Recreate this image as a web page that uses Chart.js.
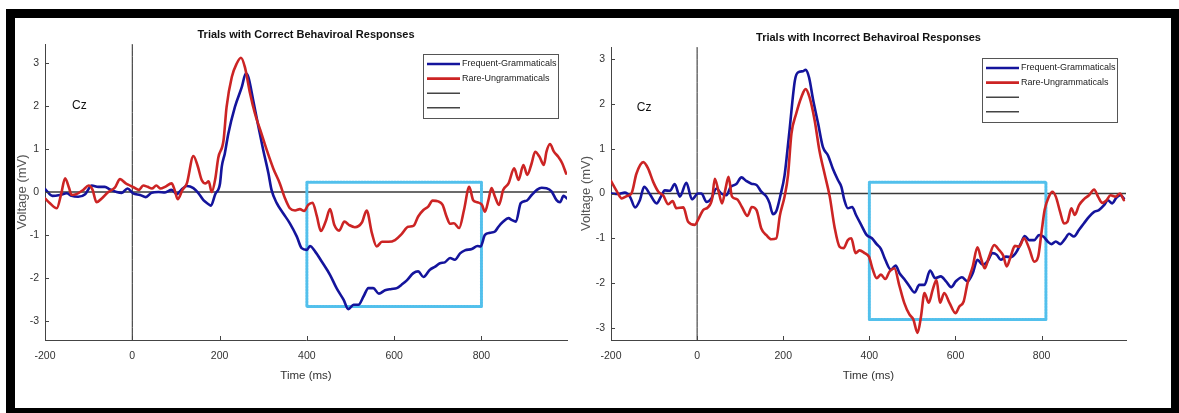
<!DOCTYPE html>
<html>
<head>
<meta charset="utf-8">
<script src="https://cdn.jsdelivr.net/npm/chart.js@4.4.1/dist/chart.umd.min.js"></script>
<style>
  html, body { margin: 0; padding: 0; background: #fff; }
  body { width: 1179px; height: 413px; position: relative; overflow: hidden; }
  #frame { position: absolute; left: 6px; top: 9px; width: 1156px; height: 390px;
           border: 9px solid #000; border-right-width: 8px; border-bottom-width: 5px; }
  .panel { position: absolute; top: 18px; }
  #p1 { left: 15px; }
  #p2 { left: 575px; }
</style>
</head>
<body>
<div id="frame"></div>
<canvas id="p1" class="panel" width="575" height="385"></canvas>
<canvas id="p2" class="panel" width="575" height="385"></canvas>
<script>
// ---- data (ms / voltage) ----
const xTicks = [-200, 0, 200, 400, 600, 800];
const yTicks = [-3, -2, -1, 0, 1, 2, 3];
const xRange = [-200, 996];
const seriesNames = ['Frequent-Grammaticals', 'Rare-Ungrammaticals'];

// left panel: correct responses
const correctFreqT = [-200,-183,-166,-150,-139,-124,-108,-93,-78,-63,-51,-36,-24,-11,2,18,31,44,60,75,90,102,113,125,140,151,163,174,180,190,201,205,212,220,235,251,260,266,277,289,300,312,319,331,346,361,377,388,400,407,419,434,453,468,484,495,507,518,530,541,552,565,579,594,606,617,629,644,655,667,682,694,705,716,728,739,751,762,778,791,798,808,820,831,839,850,862,869,879,890,904,915,927,938,949,961,972,980,988,996];
const correctFreqV = [0.07,-0.09,-0.07,-0.03,-0.09,-0.11,-0.05,0.15,0.12,0.12,0.06,0.0,-0.02,0.08,-0.03,-0.07,-0.12,-0.02,0.0,-0.01,0.05,-0.05,0.06,0.14,0.09,-0.02,-0.19,-0.28,-0.32,-0.05,0.2,0.59,0.9,1.36,1.98,2.45,2.76,2.68,2.14,1.52,0.98,0.43,0.05,-0.26,-0.5,-0.73,-1.04,-1.31,-1.35,-1.26,-1.39,-1.62,-1.93,-2.24,-2.51,-2.73,-2.63,-2.63,-2.43,-2.24,-2.24,-2.37,-2.29,-2.26,-2.24,-2.16,-2.06,-1.89,-1.85,-1.98,-1.81,-1.74,-1.66,-1.64,-1.54,-1.58,-1.43,-1.36,-1.33,-1.26,-1.27,-1.0,-0.95,-0.92,-0.81,-0.69,-0.61,-0.65,-0.69,-0.26,-0.2,-0.07,0.05,0.1,0.09,0.01,-0.19,-0.24,-0.09,-0.15];
const correctRareT = [-200,-190,-173,-163,-154,-145,-139,-128,-112,-100,-91,-82,-70,-55,-40,-28,-15,-5,5,15,25,35,45,55,65,75,90,97,104,115,125,140,150,159,168,175,182,190,197,209,216,228,239,249,258,270,281,296,308,323,338,350,361,373,384,394,403,413,423,432,443,453,463,474,486,497,510,526,537,549,560,572,587,602,617,632,644,655,667,678,688,701,711,720,728,737,749,760,772,781,791,801,808,816,823,831,840,850,862,875,885,896,905,915,923,933,943,949,957,966,976,985,994];
const correctRareV = [-0.15,-0.25,-0.38,-0.05,0.32,0.1,-0.07,-0.05,0.05,0.15,0.05,-0.24,-0.15,0.0,0.1,0.3,0.2,0.15,0.1,0.05,0.15,0.12,0.08,0.15,0.08,0.12,0.2,0.05,-0.17,0.05,0.2,0.84,0.6,0.28,0.2,0.25,0.0,0.3,0.8,1.2,1.98,2.68,2.99,3.13,2.91,2.29,1.83,1.36,0.98,0.55,0.2,-0.15,-0.38,-0.43,-0.4,-0.44,-0.3,-0.25,-0.57,-0.91,-0.69,-0.4,-0.77,-0.9,-0.69,-0.77,-0.82,-0.71,-0.43,-0.96,-1.27,-1.16,-1.16,-1.12,-0.98,-0.81,-0.79,-0.57,-0.42,-0.34,-0.2,-0.22,-0.3,-0.57,-0.74,-0.73,-0.84,-0.42,0.12,-0.19,-0.24,-0.3,-0.46,-0.19,0.09,-0.11,-0.3,0.05,0.2,0.55,0.28,0.63,0.4,0.67,0.94,0.82,0.63,0.94,1.12,0.94,0.82,0.67,0.43];

// right panel: incorrect responses
const incorrectFreqT = [-199,-183,-168,-156,-144,-133,-123,-110,-94,-84,-75,-63,-52,-40,-25,-12,2,10,22,33,45,56,68,78,91,103,114,126,138,149,161,168,176,184,194,203,209,215,227,234,246,252,260,269,281,292,304,315,327,335,342,350,360,369,381,394,406,417,427,437,450,461,470,481,493,505,516,528,541,553,566,578,590,601,615,628,640,651,663,674,686,696,705,717,729,740,752,761,771,783,794,804,814,823,833,843,854,864,875,887,898,910,922,933,945,954,964,974,983,991];
const incorrectFreqV = [0,-0.01,0.02,-0.07,-0.31,-0.15,0.15,-0.01,-0.22,-0.07,0.07,0.06,0.21,-0.07,0.24,-0.13,0,0,-0.19,-0.11,0.11,0,-0.04,0.15,0.21,0.36,0.28,0.22,0.19,0.04,-0.07,-0.21,-0.46,-0.39,-0.02,0.4,0.9,1.45,2.52,2.7,2.73,2.76,2.59,2.11,1.56,1.04,0.85,0.56,0.3,0.15,-0.15,-0.33,-0.3,-0.48,-0.7,-0.93,-1.0,-1.13,-1.24,-1.48,-1.7,-1.61,-1.78,-1.91,-2.07,-2.21,-2.04,-2.04,-1.72,-1.89,-1.85,-1.96,-2.09,-1.96,-1.87,-1.96,-1.78,-1.48,-1.59,-1.52,-1.33,-1.37,-1.48,-1.41,-1.42,-1.33,-1.11,-0.95,-1.04,-1.04,-0.93,-0.96,-1.07,-1.13,-1.07,-1.13,-1.02,-0.9,-0.96,-0.81,-0.67,-0.52,-0.41,-0.37,-0.26,-0.15,-0.22,-0.09,-0.04,-0.11];
const incorrectRareT = [-200,-187,-175,-164,-152,-141,-125,-114,-102,-90,-79,-67,-57,-48,-32,-21,-5,2,14,25,35,41,50,58,66,73,81,93,104,117,127,138,149,161,172,184,192,203,211,219,230,242,252,261,273,284,296,308,319,331,340,350,358,368,377,389,399,408,417,427,437,447,458,470,481,493,502,512,520,528,538,547,556,564,574,586,600,609,619,628,640,651,659,668,678,690,701,711,719,728,738,748,759,771,783,792,800,807,817,825,833,843,852,860,869,877,887,898,910,922,931,941,951,960,972,982,991];
const incorrectRareV = [0.28,0.06,-0.11,-0.06,0.01,0.44,0.7,0.56,0.26,0.04,-0.04,-0.24,-0.17,-0.33,-0.31,-0.63,-0.7,-0.59,-0.37,-0.31,-0.11,0.33,0.04,-0.22,0.11,0.37,-0.07,-0.13,-0.3,-0.5,-0.3,-0.37,-0.78,-0.93,-1.02,-1.0,-0.5,-0.07,0.4,1.33,1.78,2.15,2.33,2.15,1.63,0.96,0.44,-0.07,-0.74,-1.19,-1.22,-1.04,-1.0,-1.33,-1.27,-1.33,-1.41,-1.7,-1.89,-1.81,-1.91,-1.74,-1.67,-2.07,-2.44,-2.7,-2.81,-3.11,-2.74,-2.22,-2.44,-2.15,-1.93,-2.44,-2.22,-2.44,-2.67,-2.52,-2.41,-2.0,-1.63,-1.2,-1.44,-1.67,-1.41,-1.15,-1.26,-1.39,-1.63,-1.41,-1.17,-1.19,-1.0,-1.22,-1.52,-1.41,-0.85,-0.37,-0.07,0.04,-0.07,-0.41,-0.67,-0.63,-0.33,-0.48,-0.26,-0.13,-0.04,0.09,-0.07,-0.21,-0.15,-0.04,-0.07,0,-0.15];

// highlighted window (x from/to, y top/bottom)
const correctBoxX = [400, 800];
const correctBoxY = [0.23, -2.67];
const incorrectBoxX = [400, 810];
const incorrectBoxY = [0.25, -2.81];

// ---- styling ----
const BLUE = '#14149c';
const RED = '#cc2424';
const AXIS = '#444';
const CYAN = '#52c0ec';
const FONT = '"Liberation Sans", Arial, Helvetica, sans-serif';

function pts(ts, vs) {
    return ts.map((t, i) => ({x: t, y: vs[i]}));
}

function boxPts(bx, by) {
    return [
        {x: bx[0], y: by[0]}, {x: bx[1], y: by[0]},
        {x: bx[1], y: by[1]}, {x: bx[0], y: by[1]}, {x: bx[0], y: by[0]}
    ];
}

// title, Cz label, inward ticks and the framed legend
const decor = {
    id: 'decor',
    afterDraw(chart, args, o) {
        const {ctx, chartArea: a} = chart;
        const x = chart.scales.x, y = chart.scales.y;
        ctx.save();

        ctx.strokeStyle = AXIS;
        ctx.lineWidth = 1;
        xTicks.forEach(v => {
            let px = Math.round(x.getPixelForValue(v)) + 0.5;
            ctx.beginPath(); ctx.moveTo(px, a.bottom); ctx.lineTo(px, a.bottom - 4); ctx.stroke();
        });
        yTicks.forEach(v => {
            let py = Math.round(y.getPixelForValue(v)) + 0.5;
            ctx.beginPath(); ctx.moveTo(a.left, py); ctx.lineTo(a.left + 4, py); ctx.stroke();
        });

        ctx.fillStyle = '#111';
        ctx.font = 'bold 11px ' + FONT;
        ctx.textAlign = 'center';
        ctx.textBaseline = 'middle';
        ctx.fillText(o.title, (a.left + a.right) / 2, a.top - o.titleGap);

        ctx.font = '12px ' + FONT;
        ctx.textAlign = 'left';
        ctx.fillText('Cz', x.getPixelForValue(o.cz[0]), y.getPixelForValue(o.cz[1]));

        // legend box
        let bw = 135, bh = 64;
        let bl = a.right - 9 - bw, bt = a.top + o.legendDy;
        ctx.fillStyle = '#fff';
        ctx.fillRect(bl, bt, bw, bh);
        ctx.strokeStyle = '#555';
        ctx.strokeRect(bl + 0.5, bt + 0.5, bw, bh);
        let items = [
            {c: BLUE, w: 2.6, t: seriesNames[0]},
            {c: RED, w: 2.6, t: seriesNames[1]},
            {c: '#444', w: 1.6, t: ''},
            {c: '#444', w: 1.6, t: ''}
        ];
        ctx.font = '9px ' + FONT;
        ctx.fillStyle = '#222';
        items.forEach((it, i) => {
            let ry = bt + 10 + i * 14.6;
            ctx.strokeStyle = it.c;
            ctx.lineWidth = it.w;
            ctx.beginPath(); ctx.moveTo(bl + 4, ry); ctx.lineTo(bl + 37, ry); ctx.stroke();
            ctx.fillText(it.t, bl + 39, ry);
        });
        ctx.restore();
    }
};

function makePanel(id, p) {
    let ctx = document.getElementById(id).getContext('2d');
    return new Chart(ctx, {
        type: 'line',
        data: {
            datasets: [
                {label: seriesNames[0], data: pts(p.freqT, p.freqV), borderColor: BLUE, borderWidth: 2.6, order: 1},
                {label: seriesNames[1], data: pts(p.rareT, p.rareV), borderColor: RED, borderWidth: 2.6, order: 0},
                {label: 'window', data: boxPts(p.boxX, p.boxY), borderColor: CYAN, borderWidth: 3,
                 borderDash: [2, 1], borderJoinStyle: 'round', tension: 0, cubicInterpolationMode: 'default', order: 2},
                {label: 'baseline', data: [{x: xRange[0], y: 0}, {x: xRange[1], y: 0}], borderColor: '#3a3a3a', borderWidth: 1.6, order: 3},
                {label: 'onset', data: [{x: 0, y: p.yMin}, {x: 0, y: p.yMax}], borderColor: '#222', borderWidth: 1, order: 4}
            ]
        },
        options: {
            responsive: false,
            animation: false,
            parsing: false,
            layout: {padding: {top: p.padTop, right: p.padRight, left: 0, bottom: 0}},
            elements: {
                point: {radius: 0},
                line: {cubicInterpolationMode: 'monotone', borderCapStyle: 'round', fill: false}
            },
            plugins: {
                legend: {display: false},
                tooltip: {enabled: false},
                decor: {title: p.title, titleGap: 9, cz: p.cz, legendDy: p.legendDy}
            },
            scales: {
                x: {
                    type: 'linear',
                    min: xRange[0], max: xRange[1],
                    afterBuildTicks: s => { s.ticks = xTicks.map(v => ({value: v})); },
                    afterFit: s => { s.height = 63; },
                    grid: {display: false, drawTicks: false},
                    border: {color: AXIS, width: 1},
                    ticks: {padding: 10, color: '#333', font: {family: FONT, size: 10.5}},
                    title: {display: true, text: 'Time (ms)', color: '#333',
                            font: {family: FONT, size: 11.5}, padding: {top: 0, bottom: 20}}
                },
                y: {
                    type: 'linear',
                    min: p.yMin, max: p.yMax,
                    afterBuildTicks: s => { s.ticks = yTicks.map(v => ({value: v})); },
                    afterFit: s => { s.width = p.yWidth; },
                    grid: {display: false, drawTicks: false},
                    border: {color: AXIS, width: 1},
                    ticks: {padding: 6, color: '#333', font: {family: FONT, size: 10.5}},
                    title: {display: true, text: 'Voltage (mV)', color: '#555',
                            font: {family: FONT, size: 13}, padding: {top: p.yTitlePad, bottom: 0}}
                }
            }
        },
        plugins: [decor]
    });
}

makePanel('p1', {
    title: 'Trials with Correct Behaviroal Responses',
    freqT: correctFreqT, freqV: correctFreqV, rareT: correctRareT, rareV: correctRareV,
    boxX: correctBoxX, boxY: correctBoxY,
    yMin: -3.45, yMax: 3.45, padTop: 26, padRight: 23, yWidth: 30, yTitlePad: 0,
    cz: [-138, 2.02], legendDy: 10
});

makePanel('p2', {
    title: 'Trials with Incorrect Behaviroal Responses',
    freqT: incorrectFreqT, freqV: incorrectFreqV, rareT: incorrectRareT, rareV: incorrectRareV,
    boxX: incorrectBoxX, boxY: incorrectBoxY,
    yMin: -3.27, yMax: 3.27, padTop: 29, padRight: 24, yWidth: 36, yTitlePad: 4,
    cz: [-140, 1.92], legendDy: 11
});
</script>
</body>
</html>
